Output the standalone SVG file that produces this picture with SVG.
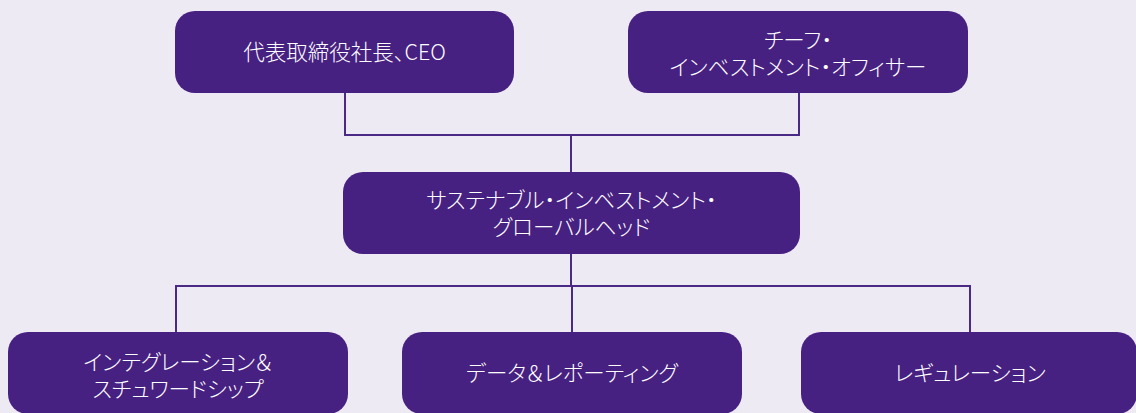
<svg xmlns="http://www.w3.org/2000/svg" width="1136" height="413" viewBox="0 0 1136 413">
<style>
.box{fill:#472181;}
.t{fill:#ffffff;font-family:"Noto Sans CJK JP","Liberation Sans",sans-serif;font-size:21.5px;font-weight:300;text-anchor:middle;font-feature-settings:"palt";}
.c{fill:none;stroke:#4a2a85;stroke-width:2;}
</style>
<rect width="1136" height="413" fill="#eeeaf4"/>
<g id="connectors">
<path class="c" d="M345 93V135H799V93M571 135V172"/>
<path class="c" d="M571 254V286M176 332V286H970V332M572 286V332"/>
</g>
<g id="ceo"><rect class="box" x="175" y="11" width="339" height="82" rx="20"/><text class="t" x="344.5" y="60">代表取締役社長、CEO</text></g>
<g id="cio"><rect class="box" x="628" y="11" width="340" height="82" rx="20"/><text class="t" x="798" y="48">チーフ・<tspan x="798" dy="27">インベストメント・オフィサー</tspan></text></g>
<g id="head"><rect class="box" x="343" y="172" width="457" height="82" rx="20"/><text class="t" x="571.5" y="208">サステナブル・インベストメント・<tspan x="571.5" dy="27">グローバルヘッド</tspan></text></g>
<g id="integration"><rect class="box" x="8" y="332" width="340" height="82" rx="20"/><text class="t" x="178" y="370">インテグレーション＆<tspan x="178" dy="27">スチュワードシップ</tspan></text></g>
<g id="data"><rect class="box" x="402" y="332" width="340" height="82" rx="20"/><text class="t" x="572" y="381">データ＆レポーティング</text></g>
<g id="regulation"><rect class="box" x="801" y="332" width="336" height="82" rx="20"/><text class="t" x="970" y="381">レギュレーション</text></g>
</svg>
